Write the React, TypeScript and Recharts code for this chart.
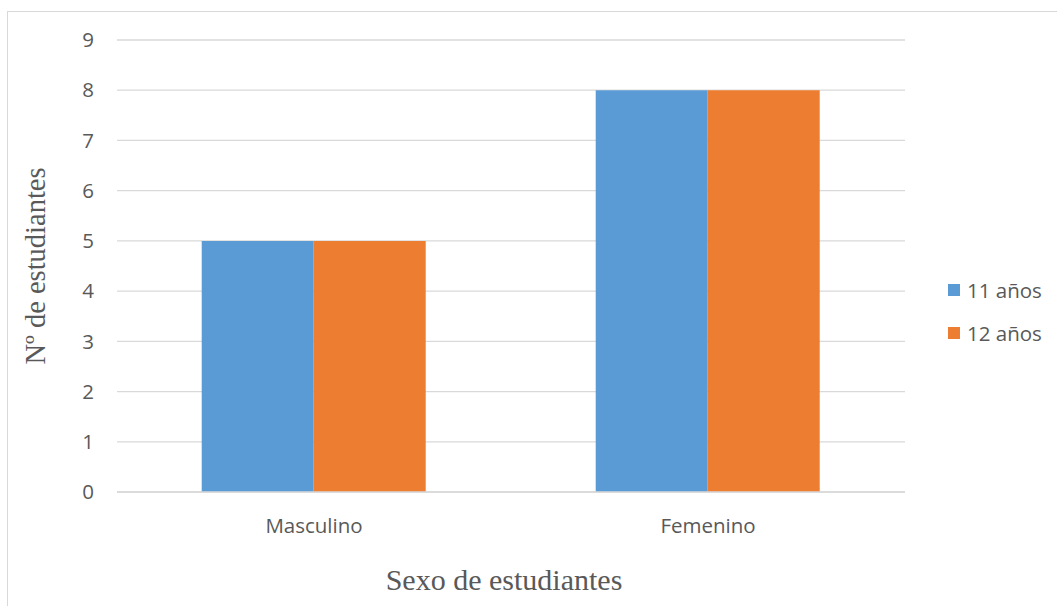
import React from "react";
import { BarChart, Bar, XAxis, YAxis, CartesianGrid, Legend } from "recharts";

const categories = ["Masculino", "Femenino"];
const series11 = [5, 8];
const series12 = [5, 8];
const yTicks = [0, 1, 2, 3, 4, 5, 6, 7, 8, 9];
const seriesNames = ["11 años", "12 años"];
const seriesColors = ["#5B9BD5", "#ED7D31"];

const data = categories.map((c, i) => ({ name: c, a: series11[i], b: series12[i] }));

const TEXT = "#595959";
const SANS = "'Open Sans', 'Noto Sans', sans-serif";
const SERIF = "'Liberation Serif', 'DejaVu Serif', serif";

const LegendContent = () => (
  <div style={{ fontFamily: SANS, fontSize: 20.5, color: TEXT }}>
    {seriesNames.map((n, i) => (
      <div key={n} style={{ display: "flex", alignItems: "center", height: 43 }}>
        <svg width={12} height={12} style={{ marginRight: 7 }}>
          <rect width={12} height={12} fill={seriesColors[i]} />
        </svg>
        <span>{n}</span>
      </div>
    ))}
  </div>
);

const XTitle = (props: any) => {
  const vb = props.viewBox || {};
  return (
    <text
      x={vb.x + vb.width / 2 - 7}
      y={590}
      textAnchor="middle"
      fill={TEXT}
      style={{ fontFamily: SERIF, fontSize: 30 }}
    >
      Sexo de estudiantes
    </text>
  );
};

const YTitle = (props: any) => {
  const vb = props.viewBox || {};
  const cy = vb.y + vb.height / 2;
  return (
    <text
      x={45}
      y={cy}
      transform={`rotate(-90, 45, ${cy})`}
      textAnchor="middle"
      fill={TEXT}
      style={{ fontFamily: SERIF, fontSize: 28.5 }}
    >
      Nº de estudiantes
    </text>
  );
};

export default function App() {
  return (
    <div
      style={{
        position: "absolute",
        left: 0,
        top: 0,
        width: 1057,
        height: 606,
        overflow: "hidden",
        background: "#fff",
      }}
    >
      <div
        style={{
          position: "absolute",
          left: 7,
          top: 11,
          width: 1100,
          height: 700,
          border: "1px solid #D9D9D9",
        }}
      />
      <div style={{ position: "absolute", left: 0, top: 0 }}>
        <BarChart
          width={1057}
          height={606}
          data={data}
          margin={{ top: 40, right: 152, bottom: 0, left: 0 }}
          barCategoryGap="21.5%"
          barGap={0}
        >
          <CartesianGrid vertical={false} stroke="#D9D9D9" strokeWidth={1.3} />
          <XAxis
            dataKey="name"
            height={114}
            tickLine={false}
            tickSize={0}
            tickMargin={26}
            axisLine={{ stroke: "#D9D9D9", strokeWidth: 1.3 }}
            tick={{ fill: TEXT, fontSize: 20.5, fontFamily: SANS }}
            label={<XTitle />}
          />
          <YAxis
            width={117}
            domain={[0, 9]}
            ticks={yTicks}
            interval={0}
            axisLine={false}
            tickLine={false}
            tickSize={0}
            tickMargin={23}
            tick={{ fill: TEXT, fontSize: 20.5, fontFamily: SANS }}
            label={<YTitle />}
          />
          <Legend
            layout="vertical"
            verticalAlign="middle"
            align="center"
            wrapperStyle={{ left: 948, top: 268, width: 120 }}
            content={<LegendContent />}
          />
          <Bar dataKey="a" name={seriesNames[0]} fill={seriesColors[0]} isAnimationActive={false} />
          <Bar dataKey="b" name={seriesNames[1]} fill={seriesColors[1]} isAnimationActive={false} />
        </BarChart>
      </div>
    </div>
  );
}
